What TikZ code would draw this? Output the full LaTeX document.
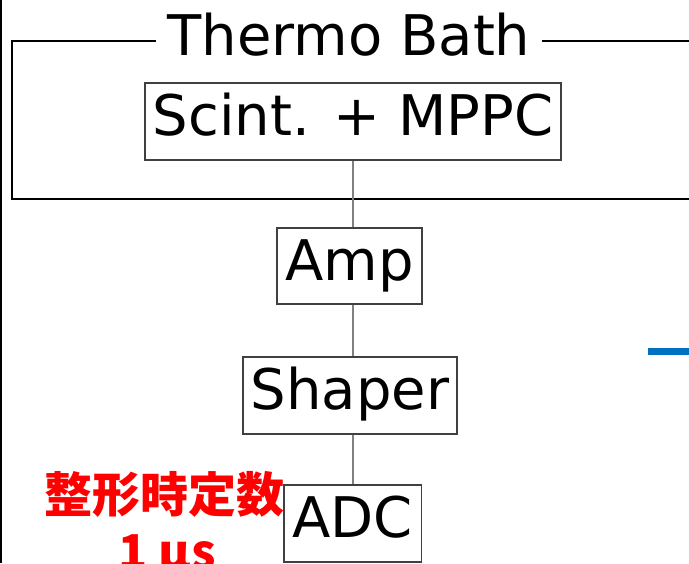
\documentclass[tikz,border=0pt]{standalone}
\usepackage{fontspec}
\setmainfont{DejaVu Sans}
\newfontfamily\cjk{Noto Sans CJK JP}
\definecolor{barblue}{RGB}{0,112,192}

\begin{document}
\begin{tikzpicture}[x=1pt,y=-1pt,
  blk/.style={draw=black!75,line width=1.2pt,fill=white,inner sep=0pt,
    text height=42pt,text depth=14pt,font=\fontsize{56}{60}\selectfont},
  wire/.style={draw=black!50,line width=1.2pt},
  note/.style={text=red,inner sep=0pt,anchor=base,font=\cjk\bfseries\fontsize{48}{57}\selectfont}]
\clip (0,0) rectangle (689,563);
\fill[white] (0,0) rectangle (689,563);
\draw[line width=2pt] (1,0) -- (1,563);
\draw[line width=1.8pt] (12,41) rectangle (720,199);
\node[fill=white,inner xsep=12pt,inner ysep=0pt,anchor=base,font=\fontsize{56}{60}\selectfont] (bath) at (349,55) {Thermo Bath};
\node[blk,minimum width=416pt,minimum height=77pt] (scint) at (353,121.5) {Scint. + MPPC};
\node[blk,minimum width=145pt,minimum height=76pt] (amp) at (349.5,266) {Amp};
\node[blk,minimum width=214pt,minimum height=77pt] (shaper) at (350,395.5) {Shaper};
\node[blk,minimum width=137.5pt,minimum height=77pt] (adc) at (352.75,523.5) {ADC};
\draw[wire] (scint.south) -- (scint.south |- amp.north);
\draw[wire] (scint.south |- amp.south) -- (scint.south |- shaper.north);
\draw[wire] (scint.south |- shaper.south) -- (scint.south |- adc.north);
\node[note] (tau) at (164.5,512) {整形時定数};
\node[note] (tauval) at (167,569) {1 μs};
\fill[barblue] (648,348) rectangle (689,355);
\end{tikzpicture}
\end{document}
